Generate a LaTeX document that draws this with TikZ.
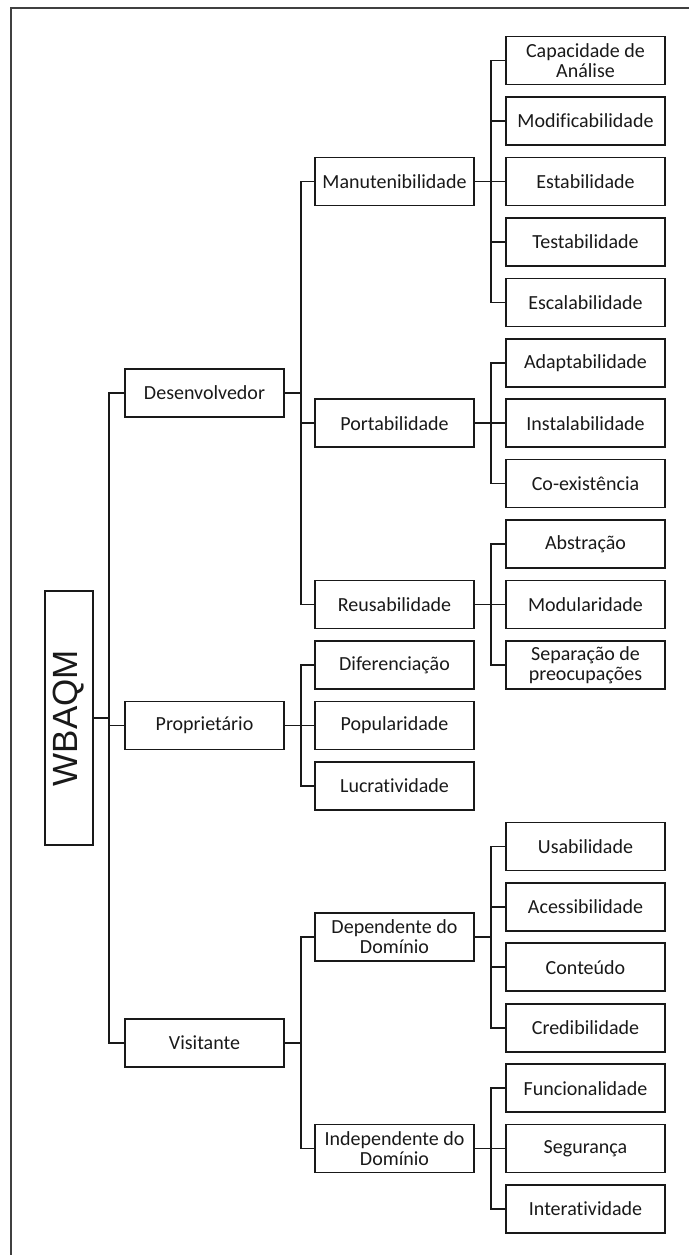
\documentclass[tikz,border=0pt]{standalone}
\usepackage{fontspec}
\setmainfont[Ligatures={NoCommon}]{Carlito}
\newfontfamily\titlefont{Liberation Sans}
\begin{document}
\begin{tikzpicture}[x=1pt,y=-1pt,
  box/.style={draw=black!90, line width=1.6pt, minimum width=159pt, minimum height=48pt,
    inner sep=0pt, align=center, font=\fontsize{20}{20}\selectfont, text=black!90},
  link/.style={draw=black!90, line width=1.6pt},
  frame/.style={draw=black!75, line width=1.8pt}]
\useasboundingbox (0,0) rectangle (688,1255);
% outer frame (open on the right and bottom)
\draw[frame] (11,1262) -- (11,8) -- (695,8);

% root
\node[box, minimum width=48pt, minimum height=254pt] (root) at (69,718)
  {\rotatebox{90}{\titlefont\fontsize{35}{35}\selectfont WBAQM}};

% first level
\node[box] (dev) at (204.5,393) {Desenvolvedor};
\node[box] (own) at (204.5,725.45) {Proprietário};
\node[box] (vis) at (204.5,1042.8) {Visitante};

% second level
\node[box] (man) at (394.5,181.4) {Manutenibilidade};
\node[box] (por) at (394.5,423.2) {Portabilidade};
\node[box] (reu) at (394.5,604.55) {Reusabilidade};
\node[box] (dif) at (394.5,665.0) {Diferenciação};
\node[box] (pop) at (394.5,725.45) {Popularidade};
\node[box] (luc) at (394.5,785.9) {Lucratividade};
\node[box] (dep) at (394.5,937.0) {Dependente do\\Domínio};
\node[box] (ind) at (394.5,1148.6) {Independente do\\Domínio};

% third level
\node[box] (cap) at (585.5,60.5) {Capacidade de\\Análise};
\node[box] (mod) at (585.5,120.95) {Modificabilidade};
\node[box] (est) at (585.5,181.4) {Estabilidade};
\node[box] (tes) at (585.5,241.85) {Testabilidade};
\node[box] (esc) at (585.5,302.3) {Escalabilidade};
\node[box] (ada) at (585.5,362.75) {Adaptabilidade};
\node[box] (ins) at (585.5,423.2) {Instalabilidade};
\node[box] (coe) at (585.5,483.65) {Co-existência};
\node[box] (abs) at (585.5,544.1) {Abstração};
\node[box] (mdl) at (585.5,604.55) {Modularidade};
\node[box] (sep) at (585.5,665.0) {Separação de\\preocupações};
\node[box] (usa) at (585.5,846.35) {Usabilidade};
\node[box] (ace) at (585.5,906.8) {Acessibilidade};
\node[box] (con) at (585.5,967.25) {Conteúdo};
\node[box] (cre) at (585.5,1027.7) {Credibilidade};
\node[box] (fun) at (585.5,1088.15) {Funcionalidade};
\node[box] (seg) at (585.5,1148.6) {Segurança};
\node[box] (int) at (585.5,1209.05) {Interatividade};

% connectors: parent -> bus -> child
\foreach \c in {dev,own,vis}
  \draw[link] (root.east) -- ++(15,0) |- (\c.west);
\foreach \p/\c in {dev/man,dev/por,dev/reu,own/dif,own/pop,own/luc,vis/dep,vis/ind}
  \draw[link] (\p.east) -- ++(16,0) |- (\c.west);
\foreach \p/\c in {man/cap,man/mod,man/est,man/tes,man/esc,
                   por/ada,por/ins,por/coe,
                   reu/abs,reu/mdl,reu/sep,
                   dep/usa,dep/ace,dep/con,dep/cre,
                   ind/fun,ind/seg,ind/int}
  \draw[link] (\p.east) -- ++(16,0) |- (\c.west);
\end{tikzpicture}
\end{document}
